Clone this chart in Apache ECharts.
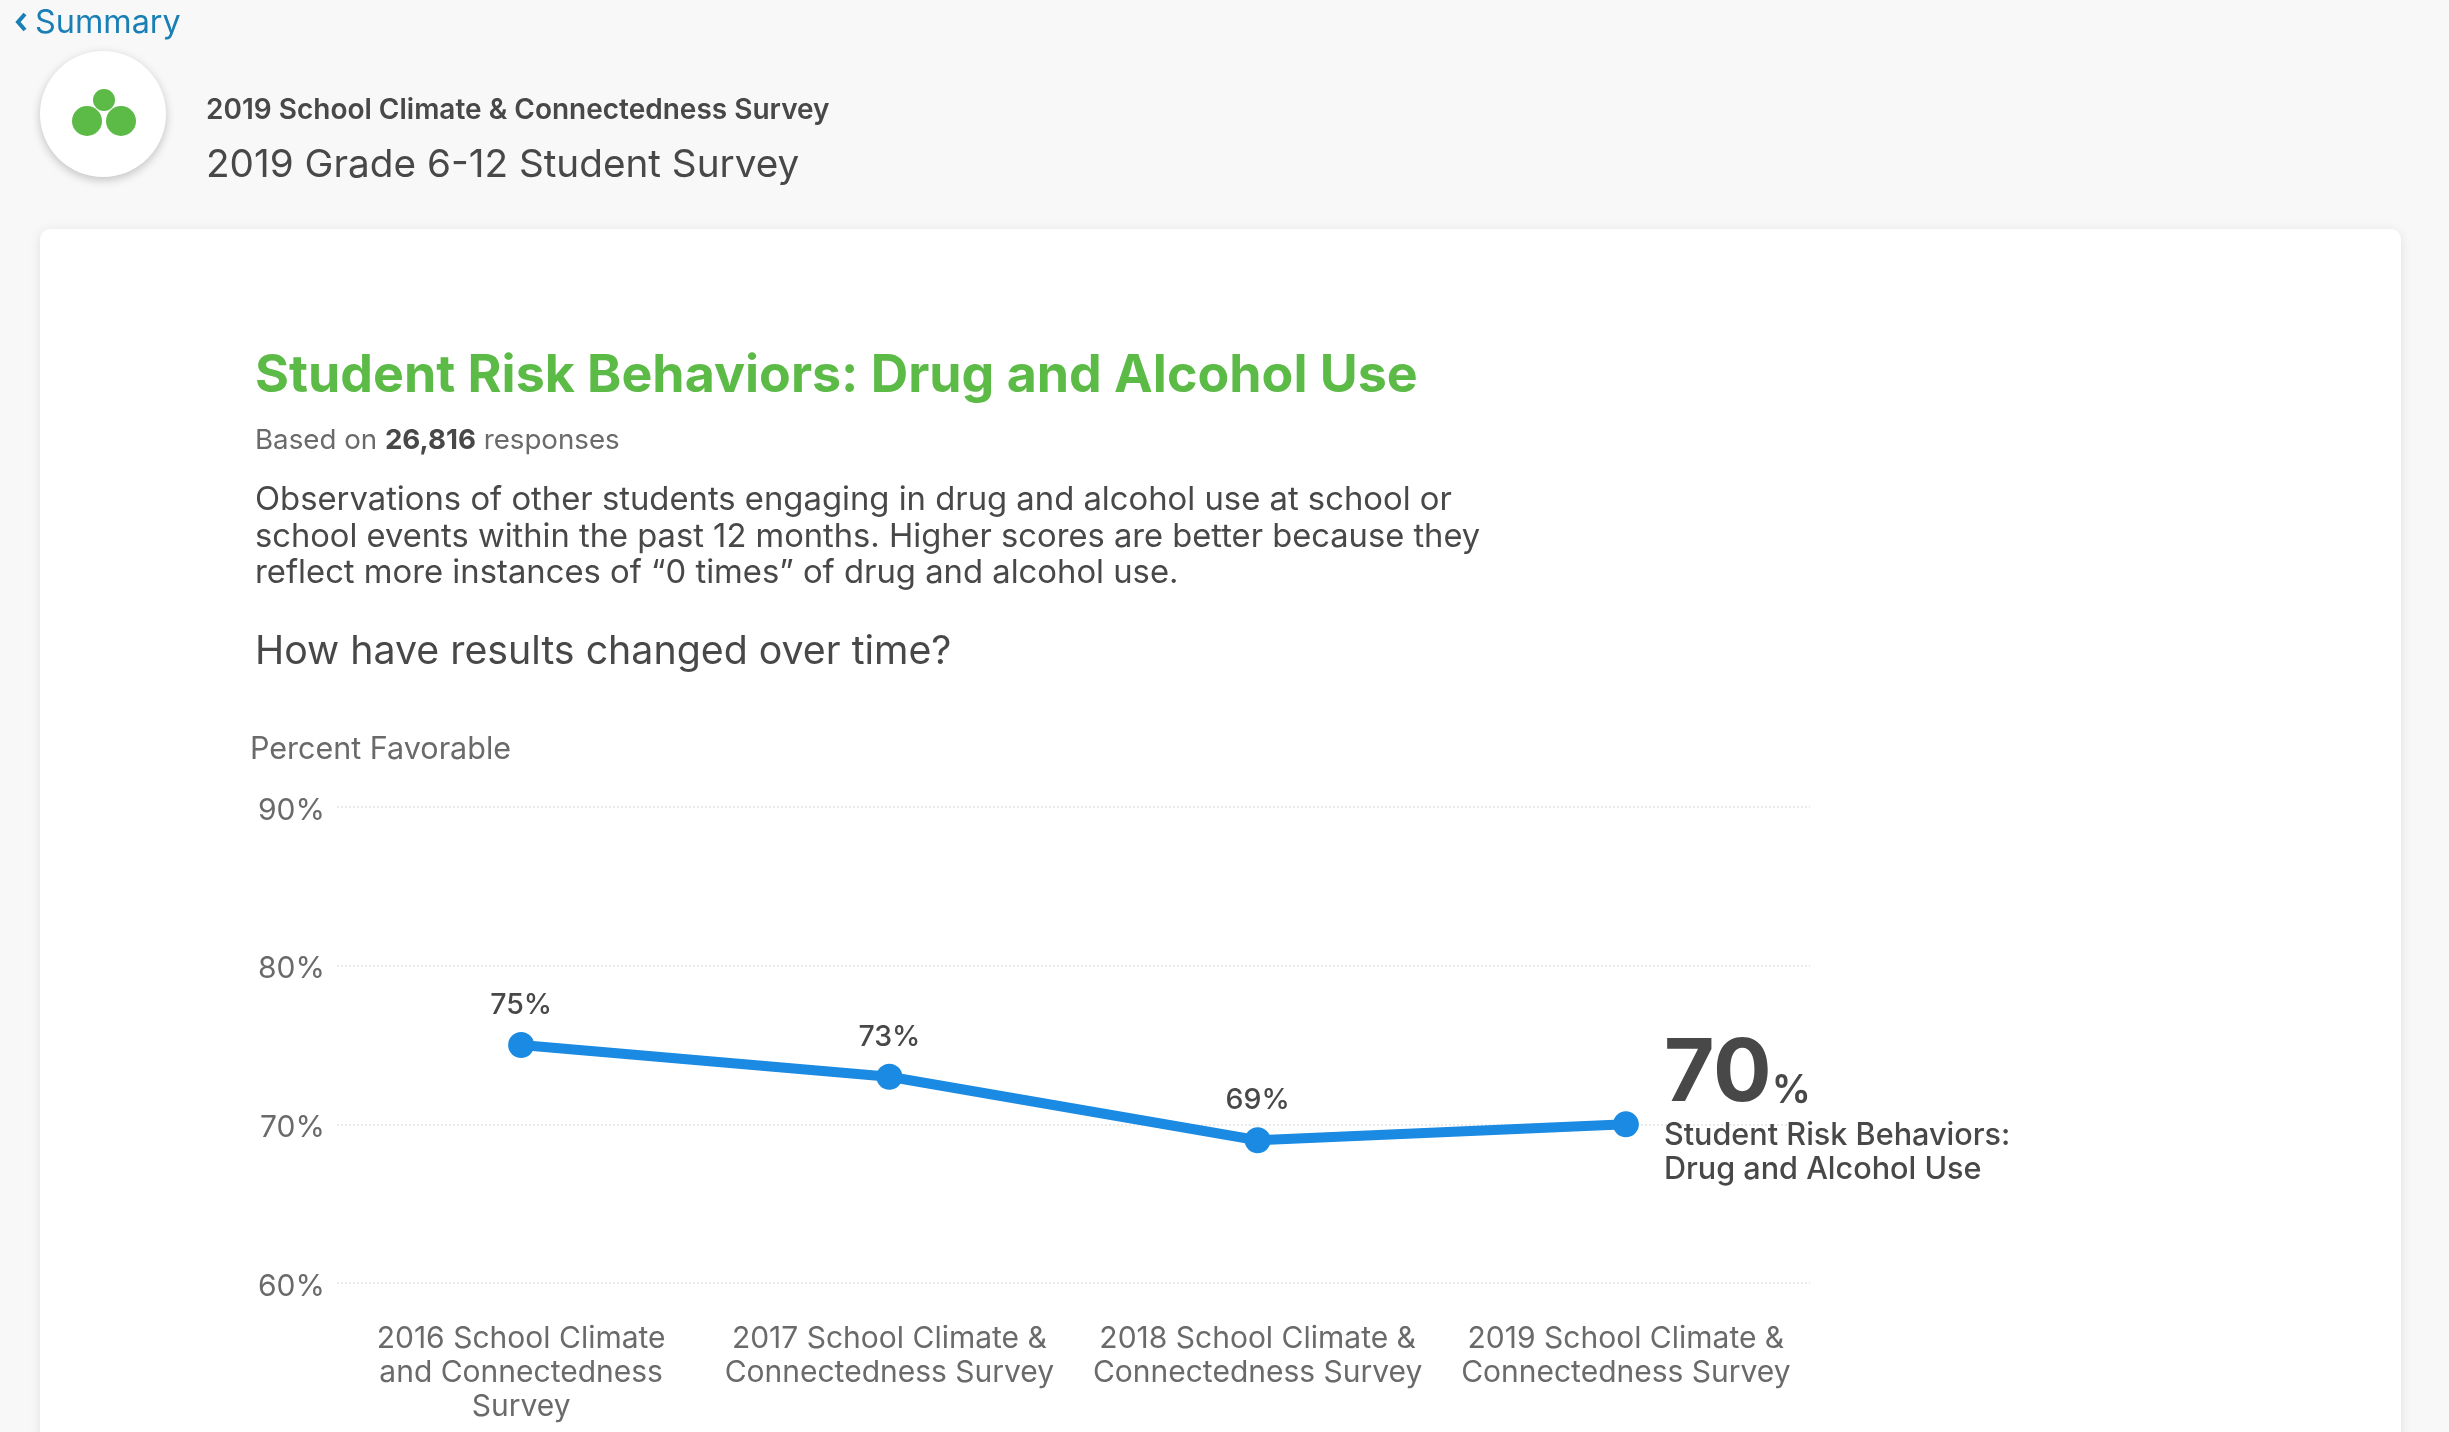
<!DOCTYPE html>
<html><head><meta charset="utf-8">
<style>html,body{margin:0;padding:0;background:#f8f8f8}#c{width:2449px;height:1432px}</style>
<script src="https://cdn.jsdelivr.net/npm/echarts@6/dist/echarts.min.js"></script>
</head><body><div id="c"></div>
<script>
const categories = ['2016 School Climate\nand Connectedness\nSurvey','2017 School Climate &\nConnectedness Survey','2018 School Climate &\nConnectedness Survey','2019 School Climate &\nConnectedness Survey'];
const favorable = [75,73,69,70];
const yTicks = {min:60,max:90,interval:10};
const seriesName = 'Student Risk Behaviors:\nDrug and Alcohol Use';
const FONT = 'Inter, "Open Sans", sans-serif';
const DARK = '#484848', GREY = '#6a6a6a', GREEN = '#5cba47', BLUE = '#1a8ae2';
const chart = echarts.init(document.getElementById('c'), null, {renderer:'canvas',width:2449,height:1432});
function t(x,y,text,size,weight,fill,extra){
  return Object.assign({type:'text',x,y,z:10,silent:true,style:{text,font:weight+' '+size+'px '+FONT,fill,verticalAlign:'middle'}},extra||{});
}
const last = favorable.length-1;
chart.setOption({
  animation:false,
  backgroundColor:'#f8f8f8',
  grid:{left:337,right:639,top:807,bottom:149,containLabel:false},
  xAxis:{type:'category',data:categories,boundaryGap:true,axisLine:{show:false},axisTick:{show:false},splitLine:{show:false},
    axisLabel:{interval:0,color:GREY,fontFamily:FONT,fontSize:30,lineHeight:34,margin:39}},
  yAxis:{type:'value',min:yTicks.min,max:yTicks.max,interval:yTicks.interval,axisLine:{show:false},axisTick:{show:false},
    splitLine:{show:true,lineStyle:{color:'#e9e9e9',type:'dotted',width:2}},
    axisLabel:{formatter:'{value}%',color:GREY,fontFamily:FONT,fontSize:30,margin:12,verticalAlign:'top',lineHeight:7}},
  series:[{type:'line',data:favorable.map((v,i)=>i===last?{value:v,label:{
      position:'right',offset:[13,-15],align:'left',
      formatter:p=>'{big|'+p.value+'}{pct|%}\n'+seriesName.split('\n').map(s=>'{nm|'+s+'}').join('\n'),
      rich:{big:{fontFamily:FONT,fontWeight:700,fontSize:87,color:DARK,lineHeight:86,verticalAlign:'bottom'},
            pct:{fontFamily:FONT,fontWeight:600,fontSize:39,color:DARK,lineHeight:44,verticalAlign:'bottom',padding:[0,0,8,0]},
            nm:{fontFamily:FONT,fontWeight:500,fontSize:30.6,color:DARK,lineHeight:34}}
    }}:v),
    symbol:'circle',symbolSize:26,lineStyle:{color:BLUE,width:10},itemStyle:{color:BLUE},
    label:{show:true,position:'top',distance:12,formatter:'{c}%',color:DARK,fontFamily:FONT,fontSize:28.5,fontWeight:500},
    z:5}],
  graphic:[
    {type:'rect',z:-5,silent:true,shape:{x:40,y:229,width:2361,height:1400,r:10},style:{fill:'#fff',shadowBlur:12,shadowColor:'rgba(0,0,0,0.10)',shadowOffsetY:2}},
    {type:'circle',z:-4,silent:true,shape:{cx:103,cy:114,r:63},style:{fill:'#fff',shadowBlur:10,shadowColor:'rgba(0,0,0,0.22)',shadowOffsetY:3}},
    {type:'circle',z:-3,silent:true,shape:{cx:87,cy:121,r:15},style:{fill:GREEN}},
    {type:'circle',z:-3,silent:true,shape:{cx:121,cy:121,r:15},style:{fill:GREEN}},
    {type:'circle',z:-3,silent:true,shape:{cx:104,cy:100,r:11},style:{fill:GREEN}},
    {type:'polygon',z:-3,silent:true,shape:{points:[[94,104],[104,109],[114,104],[104,96]]},style:{fill:GREEN}},
    {type:'polyline',z:10,silent:true,shape:{points:[[25,14],[18,22],[25,30]]},style:{stroke:'#1a7fb5',lineWidth:4,fill:null}},
    t(35,23,'Summary',32.4,400,'#1a7fb5'),
    t(206,111,'2019 School Climate & Connectedness Survey',28,600,DARK),
    t(206,165,'2019 Grade 6-12 Student Survey',38.7,400,DARK),
    t(255,376,'Student Risk Behaviors: Drug and Alcohol Use',51.9,700,GREEN),
    {type:'text',x:255,y:441,z:10,silent:true,style:{text:'{a|Based on }{b|26,816}{a| responses}',verticalAlign:'middle',rich:{
      a:{fontFamily:FONT,fontSize:27.7,fontWeight:400,fill:GREY},b:{fontFamily:FONT,fontSize:27.7,fontWeight:700,fill:DARK}}}},
    t(255,500,'Observations of other students engaging in drug and alcohol use at school or',32.8,400,DARK),
    t(255,537,'school events within the past 12 months. Higher scores are better because they',32.7,400,DARK),
    t(255,573,'reflect more instances of “0 times” of drug and alcohol use.',32.8,400,DARK),
    t(255,652,'How have results changed over time?',39.3,400,DARK),
    t(250,750,'Percent Favorable',30.5,400,GREY)
  ]
});
</script></body></html>
